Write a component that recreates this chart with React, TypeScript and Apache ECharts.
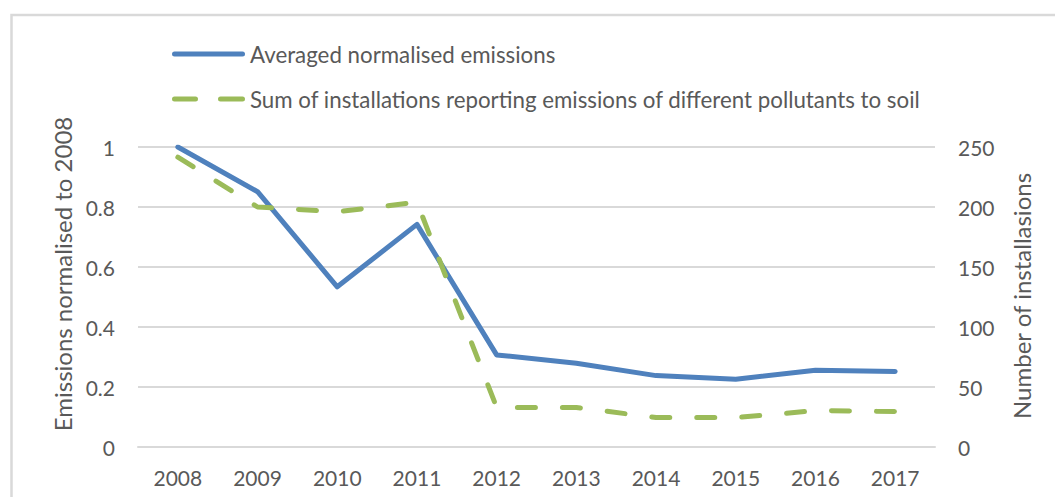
import React, { useEffect, useRef } from "react";
import * as echarts from "echarts";

const years = ["2008", "2009", "2010", "2011", "2012", "2013", "2014", "2015", "2016", "2017"];
const emissions = [1.0, 0.851, 0.534, 0.742, 0.307, 0.279, 0.238, 0.226, 0.256, 0.252];
const installations = [241.5, 200, 196, 204, 33, 33, 24.5, 24.5, 30.3, 29.5];
const leftTicks = { min: 0, max: 1, interval: 0.2 };
const rightTicks = { min: 0, max: 250, interval: 50 };
const seriesNames = [
  "Averaged normalised emissions",
  "Sum of installations reporting emissions of different pollutants to soil",
];
const leftAxisTitle = "Emissions normalised to 2008";
const rightAxisTitle = "Number of installasions";

const FONT = "Lato";
const TEXT = "#595959";
const GRID = "#d9d9d9";
const BLUE = "#4f81bd";
const GREEN = "#9bbb59";

export default function App() {
  const ref = useRef<HTMLDivElement>(null);
  useEffect(() => {
    if (!ref.current) return;
    const chart = echarts.init(ref.current, undefined, { renderer: "svg" });
    chart.setOption({
      animation: false,
      backgroundColor: "#ffffff",
      textStyle: { fontFamily: FONT, color: TEXT },
      grid: { left: 138, right: 1055 - 935, top: 147, bottom: 497 - 447, containLabel: false },
      legend: {
        orient: "vertical",
        left: 167,
        top: 36,
        itemWidth: 73,
        itemHeight: 5,
        itemGap: 19,
        textStyle: { fontFamily: FONT, fontSize: 22.3, color: TEXT, lineHeight: 26 },
        data: [
          { name: seriesNames[0], icon: "path://M2.5,0H70.5A2.5,2.5,0,0,1,70.5,5H2.5A2.5,2.5,0,0,1,2.5,0Z" },
          {
            name: seriesNames[1],
            icon:
              "path://M2.5,0H23.5A2.5,2.5,0,0,1,23.5,5H2.5A2.5,2.5,0,0,1,2.5,0Z M48.5,0H70.5A2.5,2.5,0,0,1,70.5,5H48.5A2.5,2.5,0,0,1,48.5,0Z",
          },
        ],
      },
      graphic: [
        {
          type: "rect",
          shape: { x: 11.5, y: 15, width: 1200, height: 800 },
          style: { fill: "none", stroke: GRID, lineWidth: 2.5 },
          silent: true,
        },
        {
          type: "text",
          x: 62,
          y: 274,
          rotation: Math.PI / 2,
          style: {
            text: leftAxisTitle,
            fontFamily: FONT,
            fontSize: 24,
            fill: TEXT,
            align: "center",
            verticalAlign: "middle",
          },
        },
        {
          type: "text",
          x: 1021,
          y: 296,
          rotation: Math.PI / 2,
          style: {
            text: rightAxisTitle,
            fontFamily: FONT,
            fontSize: 24,
            fill: TEXT,
            align: "center",
            verticalAlign: "middle",
          },
        },
      ],
      xAxis: {
        type: "category",
        data: years,
        boundaryGap: true,
        axisLine: { show: true, lineStyle: { color: GRID, width: 2 } },
        axisTick: { show: false },
        axisLabel: { fontFamily: FONT, fontSize: 21, color: TEXT, margin: 20 },
      },
      yAxis: [
        {
          type: "value",
          ...leftTicks,
          axisLine: { show: false },
          axisTick: { show: false },
          splitLine: { show: true, lineStyle: { color: GRID, width: 2 } },
          axisLabel: { fontFamily: FONT, fontSize: 21, color: TEXT, margin: 23 },
        },
        {
          type: "value",
          ...rightTicks,
          position: "right",
          axisLine: { show: false },
          axisTick: { show: false },
          splitLine: { show: false },
          axisLabel: { fontFamily: FONT, fontSize: 21, color: TEXT, margin: 23 },
        },
      ],
      series: [
        {
          name: seriesNames[0],
          type: "line",
          data: emissions,
          yAxisIndex: 0,
          symbol: "none",
          color: BLUE,
          lineStyle: { color: BLUE, width: 5, cap: "round", join: "round" },
        },
        {
          name: seriesNames[1],
          type: "line",
          data: installations,
          yAxisIndex: 1,
          symbol: "none",
          color: GREEN,
          lineStyle: {
            color: GREEN,
            width: 5,
            type: [18, 27],
            cap: "round",
            join: "round",
          },
        },
      ],
    });
    return () => chart.dispose();
  }, []);
  return (
    <div
      ref={ref}
      style={{ position: "fixed", left: 0, top: 0, width: 1055, height: 497, background: "#fff" }}
    />
  );
}
